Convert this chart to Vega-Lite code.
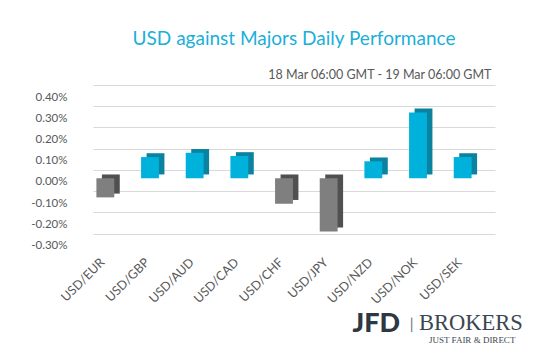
{
  "$schema": "https://vega.github.io/schema/vega-lite/v6.json",
  "width": 402,
  "height": 148.7,
  "autosize": {"type": "none"},
  "padding": {"left": 93, "top": 85, "right": 43, "bottom": 117.3},
  "background": "white",
  "title": {"text": "USD against Majors Daily Performance", "font": "Lato", "fontSize": 19, "fontWeight": "normal", "color": "#1BAFD9", "anchor": "middle", "offset": 19},
  "config": {"view": {"stroke": null}, "font": "Lato"},
  "data": {"values": [
    {"pair": "USD/EUR", "value": -0.09},
    {"pair": "USD/GBP", "value": 0.10},
    {"pair": "USD/AUD", "value": 0.12},
    {"pair": "USD/CAD", "value": 0.105},
    {"pair": "USD/CHF", "value": -0.12},
    {"pair": "USD/JPY", "value": -0.25},
    {"pair": "USD/NZD", "value": 0.08},
    {"pair": "USD/NOK", "value": 0.31},
    {"pair": "USD/SEK", "value": 0.10}
  ]},
  "layer": [
    {
      "mark": {"type": "bar", "xOffset": -4.5, "yOffset": 4.5, "y2Offset": 4.5},
      "encoding": {
        "x": {"field": "pair", "type": "nominal", "sort": null,
              "scale": {"paddingInner": 0.6, "paddingOuter": 0.3},
              "axis": {"orient": "top", "labels": false, "ticks": false, "domain": false, "grid": false,
                       "title": "18 Mar 06:00 GMT - 19 Mar 06:00 GMT", "titleX": 398, "titleAlign": "right", "titleFont": "Lato",
                       "titleFontSize": 12.5, "titleFontWeight": "normal", "titleColor": "#595959", "titlePadding": 4}},
        "y": {"field": "value", "type": "quantitative", "scale": {"domain": [-0.3, 0.4]},
              "axis": {"values": [-0.3, -0.2, -0.1, 0, 0.1, 0.2, 0.3, 0.4], "grid": true, "gridColor": "#D9D9D9", "gridWidth": 1.2,
                       "domain": false, "ticks": false, "labelPadding": 26, "labelOffset": 12, "labelColor": "#595959", "labelFontSize": 11.5,
                       "labelExpr": "replace(format(datum.value, '.2f'), '\u2212', '-') + '%'", "title": null}},
        "color": {"condition": {"test": "datum.value < 0", "value": "#505050"}, "value": "#0A82A0"}
      }
    },
    {
      "mark": {"type": "bar", "xOffset": -10, "yOffset": 8.3, "y2Offset": 8.3},
      "encoding": {
        "x": {"field": "pair", "type": "nominal", "sort": null,
              "axis": {"orient": "bottom", "labelAngle": -45, "labelColor": "#595959", "labelFontSize": 12.5,
                       "labelPadding": 22, "labelOffset": -17, "ticks": false, "domain": false, "grid": false, "title": null}},
        "y": {"field": "value", "type": "quantitative",
              "axis": {"values": [-0.3, -0.2, -0.1, 0, 0.1, 0.2, 0.3, 0.4], "grid": true, "gridColor": "#D9D9D9", "gridWidth": 1.2,
                       "domain": false, "ticks": false, "labelPadding": 26, "labelOffset": 12, "labelColor": "#595959", "labelFontSize": 11.5,
                       "labelExpr": "replace(format(datum.value, '.2f'), '\u2212', '-') + '%'", "title": null}},
        "color": {"condition": {"test": "datum.value < 0", "value": "#7F7F7F"}, "value": "#00B2DB"}
      }
    },
    {
      "data": {"values": [{}]},
      "mark": {"type": "text", "text": "JFD", "font": "Lato", "fontWeight": 900, "fontSize": 27, "color": "#2E3842", "align": "right", "baseline": "alphabetic", "dx": -72.7, "dy": 98.3},
      "encoding": {"x": {"datum": "USD/SEK", "type": "nominal", "axis": null},
                   "y": {"datum": -0.3, "type": "quantitative",
                         "axis": {"values": [-0.3, -0.2, -0.1, 0, 0.1, 0.2, 0.3, 0.4], "grid": true, "gridColor": "#D9D9D9", "gridWidth": 1.2,
                       "domain": false, "ticks": false, "labelPadding": 26, "labelOffset": 12, "labelColor": "#595959", "labelFontSize": 11.5,
                       "labelExpr": "replace(format(datum.value, '.2f'), '\u2212', '-') + '%'", "title": null}}}
    },
    {
      "data": {"values": [{}]},
      "mark": {"type": "text", "text": "|", "font": "Lato", "fontSize": 15, "color": "#6A737C", "align": "center", "baseline": "alphabetic", "dx": -61, "dy": 95},
      "encoding": {"x": {"datum": "USD/SEK", "type": "nominal", "axis": null},
                   "y": {"datum": -0.3, "type": "quantitative",
                         "axis": {"values": [-0.3, -0.2, -0.1, 0, 0.1, 0.2, 0.3, 0.4], "grid": true, "gridColor": "#D9D9D9", "gridWidth": 1.2,
                       "domain": false, "ticks": false, "labelPadding": 26, "labelOffset": 12, "labelColor": "#595959", "labelFontSize": 11.5,
                       "labelExpr": "replace(format(datum.value, '.2f'), '\u2212', '-') + '%'", "title": null}}}
    },
    {
      "data": {"values": [{}]},
      "mark": {"type": "text", "text": "BROKERS", "font": "Liberation Serif", "fontSize": 22.5, "color": "#3C4650", "align": "left", "baseline": "alphabetic", "dx": -53.7, "dy": 96.6},
      "encoding": {"x": {"datum": "USD/SEK", "type": "nominal", "axis": null},
                   "y": {"datum": -0.3, "type": "quantitative",
                         "axis": {"values": [-0.3, -0.2, -0.1, 0, 0.1, 0.2, 0.3, 0.4], "grid": true, "gridColor": "#D9D9D9", "gridWidth": 1.2,
                       "domain": false, "ticks": false, "labelPadding": 26, "labelOffset": 12, "labelColor": "#595959", "labelFontSize": 11.5,
                       "labelExpr": "replace(format(datum.value, '.2f'), '\u2212', '-') + '%'", "title": null}}}
    },
    {
      "data": {"values": [{}]},
      "mark": {"type": "text", "text": "JUST FAIR & DIRECT", "font": "Liberation Serif", "fontSize": 9, "color": "#3C4650", "align": "center", "baseline": "alphabetic", "dx": -0.5, "dy": 109.3},
      "encoding": {"x": {"datum": "USD/SEK", "type": "nominal", "axis": null},
                   "y": {"datum": -0.3, "type": "quantitative",
                         "axis": {"values": [-0.3, -0.2, -0.1, 0, 0.1, 0.2, 0.3, 0.4], "grid": true, "gridColor": "#D9D9D9", "gridWidth": 1.2,
                       "domain": false, "ticks": false, "labelPadding": 26, "labelOffset": 12, "labelColor": "#595959", "labelFontSize": 11.5,
                       "labelExpr": "replace(format(datum.value, '.2f'), '\u2212', '-') + '%'", "title": null}}}
    }
  ],
  "resolve": {"axis": {"x": "independent"}}
}
